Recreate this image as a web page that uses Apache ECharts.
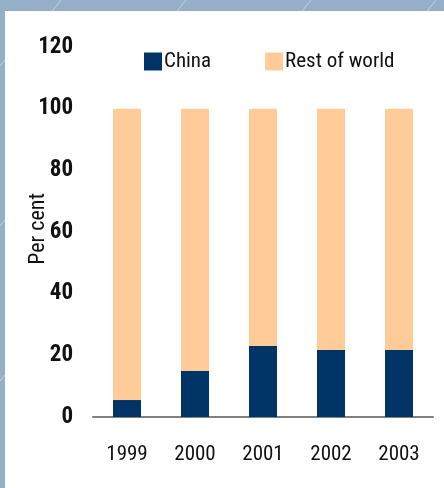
<!DOCTYPE html>
<html><head><meta charset="utf-8">
<script src="https://cdn.jsdelivr.net/npm/echarts@6/dist/echarts.min.js"></script>
<style>html,body{margin:0;padding:0;background:#94AFC7;}#c{width:444px;height:488px;}</style>
</head><body><div id="c"></div>
<script>
var categories = ['1999','2000','2001','2002','2003'];
var chinaShare = [5.5, 15, 23, 21.7, 21.7];
var restOfWorld = [94.5, 85, 77, 78.3, 78.3];
var yTicks = [0, 20, 40, 60, 80, 100, 120];

var FONT = "'Roboto Condensed','Liberation Sans',sans-serif";
var chart = echarts.init(document.getElementById('c'), null, {renderer:'canvas'});

var lines = [];
[-80, 45, 170, 295, 420, 545].forEach(function(x0){
  lines.push({type:'line', z:-10, silent:true,
    shape:{x1:x0, y1:20, x2:x0+16, y2:0},
    style:{stroke:'rgba(255,255,255,0.45)', lineWidth:1}});
});
[60, 220, 375].forEach(function(y0){
  lines.push({type:'line', z:-10, silent:true,
    shape:{x1:0, y1:y0+6, x2:5, y2:y0},
    style:{stroke:'rgba(255,255,255,0.45)', lineWidth:1}});
});

chart.setOption({
  backgroundColor:'#94AFC7',
  animation:false,
  graphic: lines.concat([
    {type:'rect', z:-5, silent:true, shape:{x:5, y:11, width:439, height:477}, style:{fill:'#ffffff'}},
    {type:'text', left:27, top:193, rotation:Math.PI/2, silent:true,
      style:{text:'Per cent', font:"22px " + FONT, fill:'#111111'}}
  ]),
  legend:{
    left:139, top:46,
    itemWidth:18, itemHeight:18, itemGap:54,
    icon:'rect',
    textStyle:{fontFamily:FONT, fontSize:21, color:'#111111', padding:[0,0,0,-3]},
    data:['China','Rest of world']
  },
  grid:{left:93, right:11, top:47, bottom:71},
  xAxis:{
    type:'category', data:categories,
    axisLine:{lineStyle:{color:'#808080', width:2}},
    axisTick:{show:false},
    axisLabel:{fontFamily:FONT, fontSize:21, color:'#111111', margin:27}
  },
  yAxis:{
    type:'value', min:0, max:120, interval:20,
    axisLine:{show:false}, axisTick:{show:false}, splitLine:{show:false},
    axisLabel:{fontFamily:FONT, fontSize:23, fontWeight:'bold', color:'#111111', margin:20,
      padding:[0,0,4,0],
      formatter:function(v){return yTicks.indexOf(v)>=0 ? String(v) : '';}}
  },
  series:[
    {name:'China', type:'bar', stack:'s', data:chinaShare, barWidth:28, itemStyle:{color:'#003366'}},
    {name:'Rest of world', type:'bar', stack:'s', data:restOfWorld, barWidth:28, itemStyle:{color:'#FFCC99'}}
  ]
});
</script></body></html>
